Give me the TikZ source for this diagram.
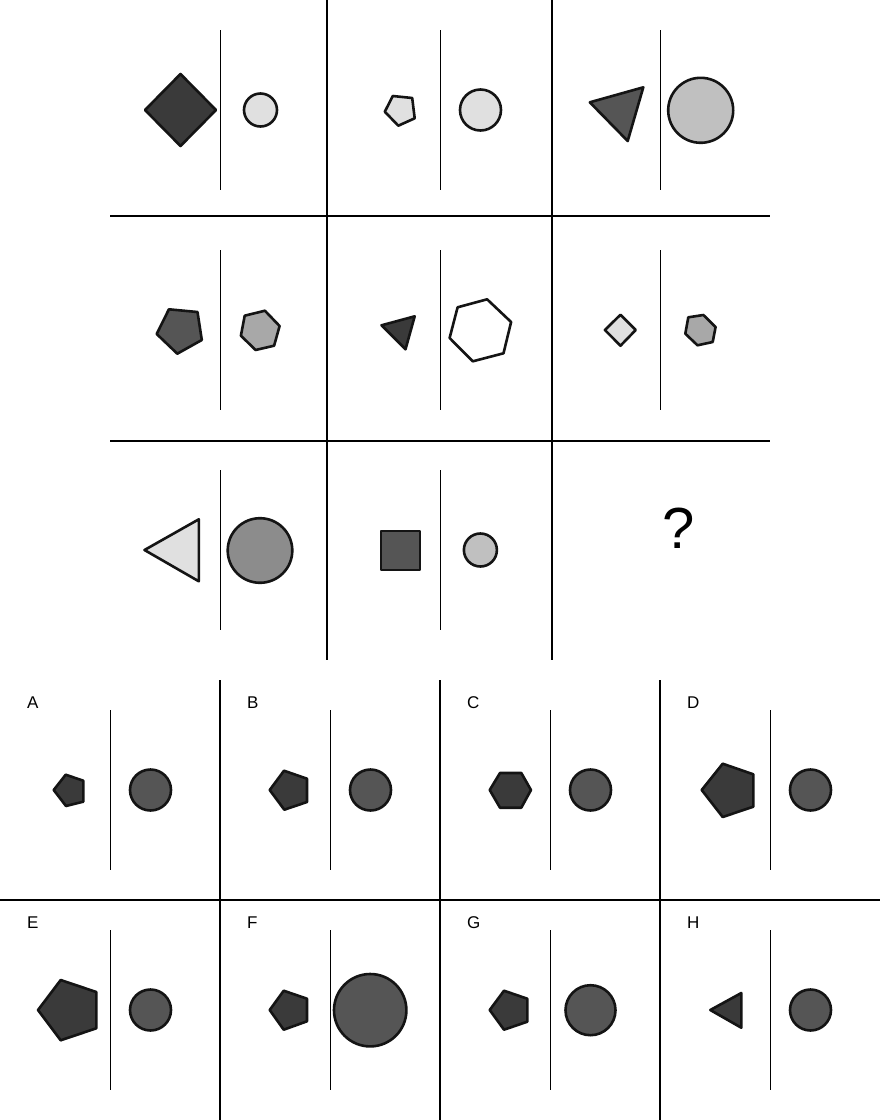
\documentclass[tikz,border=0pt]{standalone}
\usepackage{fontspec}
\setmainfont{Liberation Sans}
\begin{document}
\begin{tikzpicture}[x=1pt,y=-1pt,
  gridline/.style={line width=2pt},
  sepline/.style={line width=0.9pt},
  shp/.style={line width=2.6pt, line join=round, draw=black!92},
  lbl/.style={anchor=base west, inner sep=0pt, font=\fontsize{17}{17}\selectfont}]
\useasboundingbox (0,0) rectangle (880,1120);
\fill[white] (0,0) rectangle (880,1120);
\definecolor{cdark}{HTML}{3A3A3A}
\definecolor{cmid}{HTML}{555555}
\definecolor{cgray}{HTML}{8C8C8C}
\definecolor{csilver}{HTML}{A8A8A8}
\definecolor{clight}{HTML}{C0C0C0}
\definecolor{cpale}{HTML}{E0E0E0}
% ---- top matrix grid
\draw[gridline] (327,0) -- (327,660);
\draw[gridline] (552,0) -- (552,660);
\draw[gridline] (110,216) -- (770,216);
\draw[gridline] (110,441) -- (770,441);
\foreach \xx in {220,440,660}{
  \foreach \yy in {30,250}{
    \draw[sepline] (\xx,\yy) -- (\xx,\yy+160);
  }
}
\draw[sepline] (220,470) -- (220,630);
\draw[sepline] (440,470) -- (440,630);
% ---- row 1
\draw[shp, fill=cdark] (180.5,74) -- (216,110) -- (180.5,146) -- (145,110) -- cycle;
\draw[shp, fill=cpale] (260.5,110) circle (16.5);
\draw[shp, fill=cpale] (392.8,96) -- (412.2,98) -- (414.7,118.3) -- (398.3,125.7) -- (384.8,111.7) -- cycle;
\draw[shp, fill=cpale] (480.5,110) circle (20.5);
\draw[shp, fill=cmid] (589.8,102.3) -- (643.3,87.3) -- (627.7,141) -- cycle;
\draw[shp, fill=clight] (700.7,110.3) circle (32.5);
% ---- row 2
\draw[shp, fill=cmid] (168.9,309.3) -- (197.5,312) -- (201.8,340) -- (177.3,353.7) -- (156.7,334) -- cycle;
\draw[shp, fill=csilver] (244.7,315.7) -- (264.9,310.7) -- (279.6,326) -- (274.1,345.7) -- (255.6,350) -- (240.9,335.7) -- cycle;
\draw[shp, fill=cdark] (381.5,325.3) -- (414.7,316.3) -- (405.5,349.3) -- cycle;
\draw[shp, fill=white] (457.6,307.3) -- (487.1,299.3) -- (511.1,322) -- (503.5,353.3) -- (472.8,361.3) -- (449.6,338) -- cycle;
\draw[shp, fill=cpale] (620.5,314.7) -- (635.7,330) -- (620.5,345.7) -- (604.9,330) -- cycle;
\draw[shp, fill=csilver] (688.3,317.3) -- (703.4,315) -- (715.6,327) -- (712.7,342) -- (697.5,345.3) -- (685.3,333.7) -- cycle;
% ---- row 3
\draw[shp, fill=cpale] (144.5,550) -- (198.8,519.3) -- (198.8,581.3) -- cycle;
\draw[shp, fill=cgray] (260,550.5) circle (32.3);
\draw[shp, fill=cmid] (381,531) rectangle (420,570);
\draw[shp, fill=clight] (480.4,550) circle (16.5);
\node[inner sep=0pt, font=\fontsize{58}{58}\selectfont] (qm) at (678.5,528) {?};
% ---- answer grid
\draw[gridline] (0,900) -- (880,900);
\foreach \xx in {220,440,660}{
  \draw[gridline] (\xx,680) -- (\xx,1120);
}
\foreach \xx in {110,330,550,770}{
  \foreach \yy in {710,930}{
    \draw[sepline] (\xx,\yy) -- (\xx,\yy+160);
  }
}
\node[lbl] (la) at (27,708) {A};
\node[lbl] (lb) at (247,708) {B};
\node[lbl] (lc) at (467,708) {C};
\node[lbl] (ld) at (687,708) {D};
\node[lbl] (le) at (27,928) {E};
\node[lbl] (lf) at (247,928) {F};
\node[lbl] (lg) at (467,928) {G};
\node[lbl] (lh) at (687,928) {H};
% A
\draw[shp, fill=cdark] (65.7,774.7) -- (83.3,780.7) -- (83.3,801.7) -- (66,806) -- (53.7,790) -- cycle;
\draw[shp, fill=cmid] (150.5,790) circle (20.5);
% B
\draw[shp, fill=cdark] (284,770.7) -- (307,778.7) -- (307,802) -- (284.3,809.7) -- (269.7,790) -- cycle;
\draw[shp, fill=cmid] (370.5,790) circle (20.5);
% C
\draw[shp, fill=cdark] (500,773) -- (521.3,773) -- (531,790) -- (521.3,807.7) -- (500,807.7) -- (489.7,790) -- cycle;
\draw[shp, fill=cmid] (590.5,790) circle (20.5);
% D
\draw[shp, fill=cdark] (722.7,763.7) -- (753.3,774.3) -- (753.3,806.7) -- (722.7,817) -- (701.7,790) -- cycle;
\draw[shp, fill=cmid] (810.5,790) circle (20.5);
% E
\draw[shp, fill=cdark] (60.7,980) -- (96.3,992) -- (96.3,1028.3) -- (60.7,1040.3) -- (38,1010) -- cycle;
\draw[shp, fill=cmid] (150.5,1010) circle (20.5);
% F
\draw[shp, fill=cdark] (283.7,990.7) -- (307,998.7) -- (307,1021.3) -- (283.7,1029.7) -- (269.7,1010) -- cycle;
\draw[shp, fill=cmid] (370.2,1010.2) circle (36.2);
% G
\draw[shp, fill=cdark] (504,990.7) -- (527.3,998.7) -- (527.3,1021.7) -- (504,1029.7) -- (489.7,1010) -- cycle;
\draw[shp, fill=cmid] (590.5,1010.2) circle (25);
% H
\draw[shp, fill=cdark] (710.3,1010) -- (741.3,993) -- (741.3,1027.7) -- cycle;
\draw[shp, fill=cmid] (810.5,1010) circle (20.5);
\end{tikzpicture}
\end{document}
